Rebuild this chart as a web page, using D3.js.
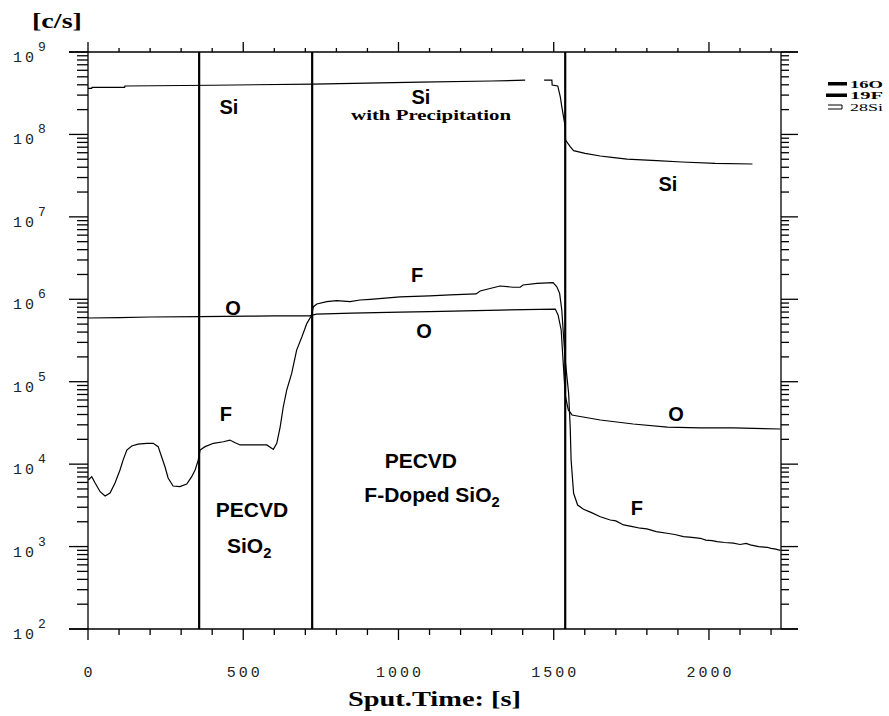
<!DOCTYPE html>
<html>
<head>
<meta charset="utf-8">
<script src="https://cdn.jsdelivr.net/npm/d3@7"></script>
<style>
  body { margin: 0; background: #fff; }
  svg { display: block; }
  .lbl { font-family: "Liberation Sans", Arial, sans-serif; font-weight: bold; fill: #000; }
  .tick-lbl { font-family: "Liberation Mono", "DejaVu Sans Mono", monospace; fill: #222; }
  .serif { font-family: "Liberation Serif", "Times New Roman", serif; font-weight: bold; fill: #000; }
</style>
</head>
<body>
<div id="chart"></div>
<script>
// sputter time [s] vs counts [c/s]
const siData = [
  [0, 3.62e8], [12, 3.62e8], [13, 3.73e8], [118, 3.73e8], [119, 3.87e8],
  [400, 3.95e8], [725, 4.08e8], [1070, 4.3e8], [1300, 4.45e8], [1408, 4.55e8],
  null,
  [1469, 4.57e8], [1494, 4.57e8], [1495, 3.98e8], [1513, 3.87e8], [1521, 2.87e8],
  [1526, 2.17e8], [1537, 1.24e8], [1538, 8.56e7], [1553, 7.1e7], [1564, 6.35e7],
  [1601, 5.9e7], [1650, 5.47e7], [1687, 5.27e7], [1736, 5.03e7], [1832, 4.8e7],
  [1913, 4.63e7], [2020, 4.46e7], [2140, 4.38e7]
];

const oData = [
  [0, 5.93e5], [100, 6.0e5], [200, 6.1e5], [358, 6.15e5], [520, 6.25e5],
  [600, 6.3e5], [715, 6.3e5], [735, 6.6e5], [850, 6.8e5], [1005, 7.0e5],
  [1100, 7.1e5], [1327, 7.4e5], [1505, 7.6e5], [1514, 6.45e5], [1524, 4.24e5],
  [1530, 1.83e5], [1537, 6.9e4], [1547, 4.54e4], [1559, 3.95e4], [1576, 3.84e4],
  [1650, 3.43e4], [1756, 3.07e4], [1866, 2.82e4], [1972, 2.75e4], [2078, 2.75e4],
  [2230, 2.67e4]
];

const fData = [
  [1, 6.43e3], [12, 7.05e3], [23, 5.9e3], [39, 4.63e3], [55, 4.11e3],
  [71, 4.47e3], [87, 5.9e3], [103, 8.49e3], [113, 1.12e4], [125, 1.48e4],
  [141, 1.66e4], [161, 1.75e4], [189, 1.79e4], [210, 1.79e4], [226, 1.63e4],
  [237, 1.23e4], [248, 9.3e3], [258, 6.79e3], [274, 5.43e3], [296, 5.33e3],
  [318, 5.74e3], [334, 7.05e3], [345, 8.49e3], [355, 1.12e4], [361, 1.48e4],
  [377, 1.63e4], [404, 1.79e4], [436, 1.87e4], [457, 1.96e4], [474, 1.82e4],
  [490, 1.71e4], [532, 1.71e4], [576, 1.71e4], [597, 1.51e4], [608, 1.79e4],
  [619, 2.84e4], [629, 4.97e4], [640, 7.92e4], [656, 1.26e5], [672, 2.42e5],
  [689, 3.51e5], [705, 5.11e5], [719, 6.27e5], [726, 8.13e5], [737, 8.77e5],
  [769, 9.35e5], [801, 9.62e5], [844, 9.35e5], [876, 9.8e5], [909, 1.0e6],
  [1005, 1.07e6], [1100, 1.1e6], [1166, 1.13e6], [1250, 1.16e6], [1263, 1.26e6],
  [1327, 1.45e6], [1369, 1.4e6], [1392, 1.4e6], [1401, 1.49e6], [1446, 1.56e6],
  [1498, 1.59e6], [1510, 1.42e6], [1519, 1.18e6], [1526, 7.41e5], [1531, 3.86e5],
  [1537, 1.84e5], [1548, 7.25e4], [1553, 2.84e4], [1556, 1.12e4], [1564, 4.43e3],
  [1577, 3.19e3], [1596, 2.83e3], [1620, 2.6e3], [1650, 2.3e3], [1682, 2.1e3],
  [1700, 2.05e3], [1725, 1.83e3], [1750, 1.76e3], [1779, 1.67e3], [1800, 1.64e3],
  [1830, 1.52e3], [1865, 1.45e3], [1890, 1.4e3], [1918, 1.32e3], [1945, 1.29e3],
  [1972, 1.26e3], [1990, 1.2e3], [2010, 1.18e3], [2026, 1.15e3], [2050, 1.12e3],
  [2079, 1.1e3], [2100, 1.06e3], [2120, 1.09e3], [2133, 1.05e3], [2160, 1.0e3],
  [2187, 980], [2200, 950], [2215, 930], [2230, 900]
];

// layer boundaries [s]
const boundaries = [358, 722, 1537];

const xTickLabels = [0, 500, 1000, 1500, 2000];
const decades = [2, 3, 4, 5, 6, 7, 8, 9];

// text annotations: [time, counts, text]
const curveLabels = [
  [454, 1.77e8, "Si"], [1072, 2.34e8, "Si"], [1868, 2.06e7, "Si"],
  [467, 6.44e5, "O"], [1082, 3.39e5, "O"], [1894, 3.33e4, "O"],
  [1060, 1.62e6, "F"], [444, 3.33e4, "F"], [1768, 2.41e3, "F"]
];
const layerLabels = [
  [528, 2.29e3, "PECVD"], [1072, 8.98e3, "PECVD"]
];

const legendItems = ["16O", "19F", "28Si"];

const width = 889, height = 716;
const margin = { top: 52, right: 108, bottom: 87, left: 88 };

const svg = d3.select("#chart").append("svg")
  .attr("width", width).attr("height", height);

const x = d3.scaleLinear().domain([0, 2232]).range([margin.left, width - margin.right]);
const y = d3.scaleLog().domain([1e2, 1e9]).range([height - margin.bottom, margin.top]);

const x0 = x.range()[0], x1 = x.range()[1];
const yTop = y.range()[1], yBot = y.range()[0];

// minor / major ticks
const xMinor = d3.range(0, 2201, 100);
const yMinor = [];
for (let e = 2; e < 9; e++) decades.forEach(m => yMinor.push(m * Math.pow(10, e)));
const yMajor = d3.range(2, 10).map(e => Math.pow(10, e));

const ax = svg.append("g").attr("stroke", "#000").attr("stroke-width", 1.3);

// bottom & top axis lines, extended past the frame
[yTop, yBot].forEach(yy => ax.append("line").attr("x1", 69).attr("x2", 798).attr("y1", yy).attr("y2", yy));
ax.append("line").attr("x1", x0).attr("x2", x0).attr("y1", yTop).attr("y2", yBot);
ax.append("line").attr("x1", x1).attr("x2", x1).attr("y1", yTop).attr("y2", yBot);

xMinor.forEach(t => {
  const major = t % 500 === 0;
  ax.append("line").attr("x1", x(t)).attr("x2", x(t)).attr("y1", yBot).attr("y2", yBot + (major ? 11 : 6));
  ax.append("line").attr("x1", x(t)).attr("x2", x(t)).attr("y1", yTop).attr("y2", yTop - (major ? 10 : 4));
});

yMinor.forEach(v => {
  ax.append("line").attr("x1", x0 - 11).attr("x2", x0).attr("y1", y(v)).attr("y2", y(v));
  ax.append("line").attr("x1", x1).attr("x2", x1 + 8).attr("y1", y(v)).attr("y2", y(v));
});
yMajor.forEach(v => {
  ax.append("line").attr("x1", 69).attr("x2", x0).attr("y1", y(v)).attr("y2", y(v));
  ax.append("line").attr("x1", x1).attr("x2", 798).attr("y1", y(v)).attr("y2", y(v));
});

// y tick labels 10^n
yMajor.forEach(v => {
  const e = Math.round(Math.log10(v));
  svg.append("text").attr("class", "tick-lbl")
    .attr("x", 37).attr("y", y(v) + 10).attr("text-anchor", "end")
    .style("font-size", "15px").style("letter-spacing", "3px").text("10");
  svg.append("text").attr("class", "tick-lbl")
    .attr("x", 38).attr("y", y(v) - 1)
    .style("font-size", "13px").text(e);
});

// x tick labels
xTickLabels.forEach(t => {
  svg.append("text").attr("class", "tick-lbl")
    .attr("x", x(t) + 1.5).attr("y", 677).attr("text-anchor", "middle")
    .style("font-size", "15px").style("letter-spacing", "3px").text(t);
});

// layer boundaries
boundaries.forEach(t => {
  svg.append("line").attr("x1", x(t)).attr("x2", x(t)).attr("y1", yTop).attr("y2", yBot)
    .attr("stroke", "#000").attr("stroke-width", 2.2);
});

// profiles
const line = d3.line().defined(d => d !== null).x(d => x(d[0])).y(d => y(d[1]));
[siData, oData, fData].forEach(data => {
  svg.append("path").datum(data)
    .attr("fill", "none").attr("stroke", "#000").attr("stroke-width", 1.2)
    .attr("d", line);
});

// annotations
curveLabels.forEach(([t, v, s]) => {
  svg.append("text").attr("class", "lbl")
    .attr("x", x(t)).attr("y", y(v)).attr("text-anchor", "middle")
    .style("font-size", "20px").text(s);
});
layerLabels.forEach(([t, v, s]) => {
  svg.append("text").attr("class", "lbl")
    .attr("x", x(t)).attr("y", y(v)).attr("text-anchor", "middle")
    .style("font-size", "21px").text(s);
});

function chem(tx, ty, base, size) {
  const t = svg.append("text").attr("class", "lbl")
    .attr("x", tx).attr("y", ty).attr("text-anchor", "middle").style("font-size", size + "px");
  t.append("tspan").text(base);
  t.append("tspan").attr("dy", 5).style("font-size", (size * 0.7) + "px").text("2");
  return t;
}
chem(x(519), y(836), "SiO", 21);
chem(x(1108), y(3.48e3), "F-Doped SiO", 21);

svg.append("text").attr("class", "serif")
  .attr("x", x(1105)).attr("y", y(1.5e8)).attr("text-anchor", "middle")
  .attr("textLength", 160).attr("lengthAdjust", "spacingAndGlyphs")
  .style("font-size", "15px").text("with Precipitation");

// axis titles
svg.append("text").attr("class", "serif")
  .attr("x", 32).attr("y", 28)
  .attr("textLength", 50).attr("lengthAdjust", "spacingAndGlyphs")
  .style("font-size", "20px").text("[c/s]");
svg.append("text").attr("class", "serif")
  .attr("x", 348).attr("y", 706)
  .attr("textLength", 173).attr("lengthAdjust", "spacingAndGlyphs")
  .style("font-size", "21px").text("Sput.Time: [s]");

// legend
const lg = svg.append("g").attr("transform", "translate(828,84)");
legendItems.forEach((s, i) => {
  const yy = i * 11.5;
  if (i < 2) {
    lg.append("rect").attr("x", i === 1 ? -2 : 0).attr("y", yy - 2).attr("width", i === 1 ? 21 : 19).attr("height", 3.5).attr("fill", "#000");
  } else {
    lg.append("path").attr("d", `M0,${yy - 2}H14V${yy + 2}H0`).attr("fill", "none").attr("stroke", "#000").attr("stroke-width", 1);
  }
  lg.append("text").attr("class", "serif").attr("x", 22).attr("y", yy + 3.5)
    .attr("textLength", 33).attr("lengthAdjust", "spacingAndGlyphs")
    .style("font-size", "10px").style("font-weight", i === 2 ? "normal" : "bold").text(s);
});
</script>
</body>
</html>
